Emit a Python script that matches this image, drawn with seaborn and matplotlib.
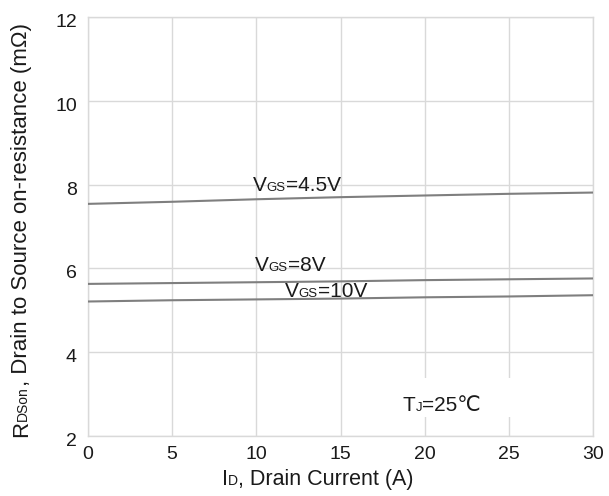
import numpy as np
import pandas as pd
import matplotlib
matplotlib.use("Agg")
import matplotlib.pyplot as plt
import matplotlib.transforms as mtransforms
from matplotlib.patches import Rectangle
import seaborn as sns

# Drain current (A) and on-resistance (mOhm) per gate voltage
drain_current = [0, 5, 10, 15, 20, 25, 30]
rds_vgs_4v5 = [7.54, 7.59, 7.65, 7.70, 7.74, 7.78, 7.81]
rds_vgs_8v = [5.63, 5.65, 5.67, 5.69, 5.72, 5.74, 5.76]
rds_vgs_10v = [5.21, 5.24, 5.26, 5.28, 5.31, 5.33, 5.36]
series_names = ["4.5V", "8V", "10V"]

x_ticks = [0, 5, 10, 15, 20, 25, 30]
y_ticks = [2, 4, 6, 8, 10, 12]

sns.set_style("whitegrid")
FAMILY = ["Liberation Sans", "DejaVu Sans", "Noto Sans CJK SC"]
plt.rcParams["font.family"] = FAMILY
TEXT_COLOR = "#1a1a1a"
GRID_COLOR = "#d9d9d9"
LINE_COLOR = "#7f7f7f"

df = pd.DataFrame({
    "current": drain_current * 3,
    "rds": rds_vgs_4v5 + rds_vgs_8v + rds_vgs_10v,
    "vgs": sum([[n] * len(drain_current) for n in series_names], []),
})

fig = plt.figure(figsize=(6.09, 4.96), dpi=100)
ax = fig.add_axes([88 / 609, 1 - 436 / 496, (593 - 88) / 609, (436 - 17) / 496])

sns.lineplot(data=df, x="current", y="rds", hue="vgs", ax=ax,
             palette=[LINE_COLOR] * 3, linewidth=1.5, legend=False, zorder=3)

ax.set_xlim(0, 30)
ax.set_ylim(2, 12)
ax.set_xticks(x_ticks)
ax.set_yticks(y_ticks)
ax.grid(True, color=GRID_COLOR, linewidth=1.0)
for sp in ax.spines.values():
    sp.set_color(GRID_COLOR)
    sp.set_linewidth(1.0)
ax.tick_params(axis="both", length=0, labelsize=14, labelcolor=TEXT_COLOR)
ax.tick_params(axis="y", pad=8)
ax.tick_params(axis="x", pad=7)
ax.set_xlabel("")
ax.set_ylabel("")
shift = mtransforms.ScaledTranslation(0, -2.5 / 72, fig.dpi_scale_trans)
for lbl in ax.get_yticklabels():
    lbl.set_transform(lbl.get_transform() + shift)

renderer = fig.canvas.get_renderer()
ident = mtransforms.IdentityTransform()


def rich_text(x, y, pieces, transform, rotation=0, ha="left"):
    """Draw text pieces of mixed size on one shared baseline."""
    x0, y0 = transform.transform((x, y))
    widths = []
    for s, size in pieces:
        t = fig.text(0, 0, s, fontsize=size, family=FAMILY)
        widths.append(t.get_window_extent(renderer).width)
        t.remove()
    total = sum(widths)
    start = {"left": 0.0, "center": -total / 2, "right": -total}[ha]
    c, s_ = np.cos(np.radians(rotation)), np.sin(np.radians(rotation))
    pos = start
    for (s, size), w in zip(pieces, widths):
        fig.text(x0 + pos * c, y0 + pos * s_, s, fontsize=size, family=FAMILY,
                 color=TEXT_COLOR, rotation=rotation, rotation_mode="anchor",
                 ha="left", va="baseline", transform=ident, zorder=5)
        pos += w


big, small = 15, 9.5
rich_text(9.8, 7.85, [("V", big), ("GS", small), ("=4.5V", big)], ax.transData)
rich_text(9.9, 5.94, [("V", big), ("GS", small), ("=8V", big)], ax.transData)
rich_text(11.7, 5.32, [("V", big), ("GS", small), ("=10V", big)], ax.transData)

# white patch behind the junction temperature note
ax.add_patch(Rectangle((16.5, 2.45), 9.0, 0.93, facecolor="white",
                       edgecolor="none", zorder=2.5))
rich_text(18.7, 2.6, [("T", big), ("J", small), ("=25℃", big)], ax.transData)

# axis titles
rich_text(318, 11, [("I", 15.5), ("D", 10), (", Drain Current (A)", 15.5)],
          ident, ha="center")
rich_text(27, 266, [("R", 16), ("DSon", 10),
                    (", Drain to Source on-resistance (mΩ)", 16)],
          ident, rotation=90, ha="center")

fig.savefig("out.png", dpi=100)
